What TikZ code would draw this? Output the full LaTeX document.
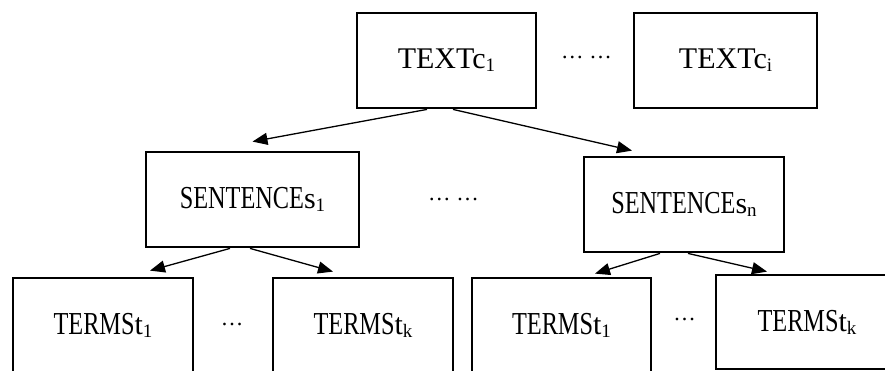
\documentclass[tikz,border=0pt]{standalone}
\usepackage{fontspec}
\setmainfont{Liberation Serif}
\usetikzlibrary{arrows.meta}

% lowered index digit/letter after a label
\newcommand{\lowidx}[1]{{\fontsize{19}{19}\selectfont\raisebox{-3pt}{#1}}}
\newcommand{\plainlbl}{\fontsize{30}{30}\selectfont}
% horizontally narrowed capitals
\newcommand{\narrowcaps}[1]{\scalebox{0.76}[1]{\fontsize{32}{32}\selectfont #1}}

\tikzset{
  levelbox/.style={draw, line width=2.8pt, rectangle, inner sep=0pt,
                   minimum height=95pt, align=center},
  linkarrow/.style={line width=1.3pt,
                    -{Triangle[length=15pt,width=12pt]}},
  gapdots/.style={inner sep=0pt, font=\fontsize{22.5}{22.5}\selectfont}
}

\begin{document}
\begin{tikzpicture}[x=1pt, y=-1pt]
  \clip (0,0) rectangle (885,370);
  \fill[white] (0,0) rectangle (885,370);

  % top level: texts
  \node[levelbox, minimum width=179pt] (c1) at (446.5,60.5)
       {\plainlbl TEXTc\lowidx{1}};
  \node[levelbox, minimum width=183pt] (ci) at (725.5,60.5)
       {\plainlbl TEXTc\lowidx{i}};
  \node[gapdots] (dtop) at (586.5,57) {… …};

  % middle level: sentences
  \node[levelbox, minimum width=213pt] (s1) at (252.5,199.5)
       {\narrowcaps{SENTENCE}{\plainlbl s}\lowidx{1}};
  \node[levelbox, minimum width=200pt] (sn) at (684,204.5)
       {\narrowcaps{SENTENCE}{\plainlbl s}\lowidx{n}};
  \node[gapdots] (dmid) at (453.5,199) {… …};

  % bottom level: terms
  \node[levelbox, minimum width=180pt] (t1) at (103,325.5)
       {\narrowcaps{TERMS}{\plainlbl t}\lowidx{1}};
  \node[levelbox, minimum width=180pt] (t2) at (363,325.5)
       {\narrowcaps{TERMS}{\plainlbl t}\lowidx{k}};
  \node[levelbox, minimum width=179pt] (t3) at (561.5,325.5)
       {\narrowcaps{TERMS}{\plainlbl t}\lowidx{1}};
  \node[levelbox, minimum width=182pt, minimum height=94pt] (t4) at (807,322)
       {\narrowcaps{TERMS}{\plainlbl t}\lowidx{k}};
  \node[gapdots] (dlowa) at (232,324) {…};
  \node[gapdots] (dlowb) at (684.5,319) {…};

  % links text -> sentences
  \draw[linkarrow] ([xshift=-19.5pt]c1.south) -- ([yshift=9pt]s1.north);
  \draw[linkarrow] ([xshift=6.5pt]c1.south) -- ([xshift=-52pt,yshift=5pt]sn.north);

  % links sentences -> terms
  \draw[linkarrow] ([xshift=-22.5pt]s1.south) -- ([xshift=47pt,yshift=6pt]t1.north);
  \draw[linkarrow] ([xshift=-2.5pt]s1.south) -- ([xshift=-30pt,yshift=5pt]t2.north);
  \draw[linkarrow] ([xshift=-24pt]sn.south) -- ([xshift=33.5pt,yshift=3pt]t3.north);
  \draw[linkarrow] ([xshift=4pt]sn.south) -- ([xshift=-40pt,yshift=2pt]t4.north);
\end{tikzpicture}
\end{document}
